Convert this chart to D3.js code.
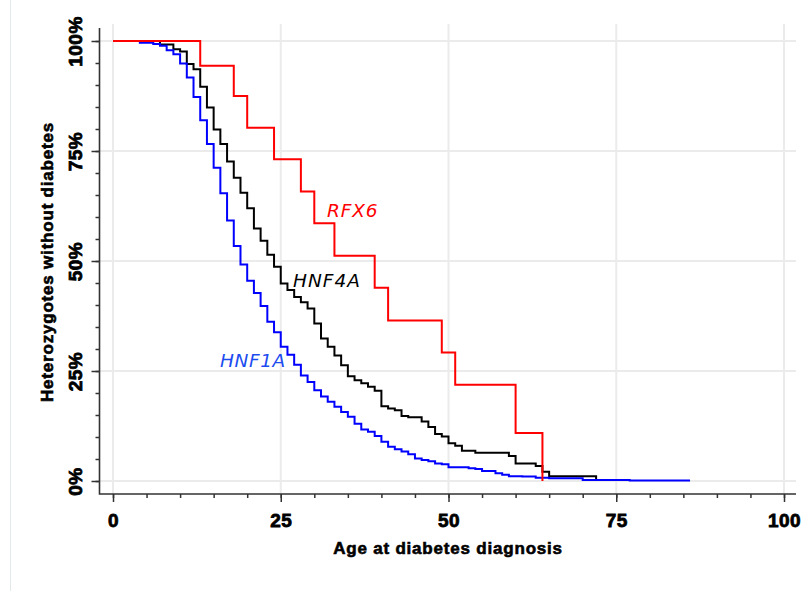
<!DOCTYPE html>
<html>
<head>
<meta charset="utf-8">
<script src="https://cdn.jsdelivr.net/npm/d3@7"></script>
<style>
  html, body { margin: 0; padding: 0; background: #fff; }
  svg { display: block; }
</style>
</head>
<body>
<svg id="chart" width="804" height="591"></svg>
<script>
// ---------------- data ----------------
const rfx6Age  = [0, 13, 18, 20, 24, 28, 30, 33, 39, 41, 49, 51, 60, 64];
const rfx6Surv = [100, 94.4, 87.5, 80.3, 73.1, 65.8, 58.6, 51.2, 43.9, 36.5, 29.2, 21.9, 10.9, 0];

const hnf4aAge  = [0, 7, 9, 10, 11, 12, 13, 14, 15, 16, 17, 18, 19, 20, 21, 22, 23, 24, 25, 26, 27, 28, 29, 30,
                   31, 32, 33, 34, 35, 36, 37, 38, 39, 40, 41, 42, 43, 44, 46, 47, 48, 49, 50, 51, 52, 54, 59, 60, 63, 64, 65, 72];
const hnf4aSurv = [100, 99.2, 98.1, 97.6, 94.8, 93.6, 89.6, 84.9, 79.9, 76.6, 72.6, 68.9, 65.5, 62.0, 57.4, 54.6, 51.4, 48.7, 44.9, 43.4, 41.8, 40.6, 39.2, 35.8,
                   32.4, 30.5, 28.5, 26.3, 23.8, 22.9, 22.2, 21.4, 20.5, 17.0, 16.5, 16.1, 14.8, 14.5, 13.5, 12.3, 10.7, 10.1, 8.6, 8.0, 6.9, 6.4, 5.7, 4.0, 3.4, 2.1, 1.1, 0];

const hnf1aAge  = [0, 4, 6, 7, 8, 9, 10, 11, 12, 13, 14, 15, 16, 17, 18, 19, 20, 21, 22, 23, 24, 25, 26, 27, 28, 29, 30,
                   31, 32, 33, 34, 35, 36, 37, 38, 39, 40, 41, 42, 43, 44, 45, 46, 47, 48, 49, 50, 53, 54, 55, 57, 58, 59, 61, 63, 65, 70, 77, 86];
const hnf1aSurv = [100, 99.6, 99.3, 98.9, 97.9, 97.0, 94.9, 91.7, 87.3, 82.0, 76.6, 71.2, 65.4, 59.2, 53.4, 49.2, 45.5, 42.7, 39.8, 36.2, 33.8, 30.5, 28.7, 26.4, 24.0, 22.5, 20.6,
                   19.2, 18.0, 16.9, 15.7, 14.6, 13.0, 11.7, 11.2, 10.2, 8.9, 7.8, 7.2, 6.7, 6.1, 5.1, 4.8, 4.5, 4.0, 3.8, 3.1, 2.9, 2.7, 2.3, 1.75, 1.4, 1.1, 1.0, 0.75, 0.6, 0.2, 0.1, 0.1];

const seriesNames  = ["HNF4A", "HNF1A", "RFX6"];
const xTickValues  = [0, 25, 50, 75, 100];
const xTickLabels  = ["0", "25", "50", "75", "100"];
const yTickValues  = [0, 25, 50, 75, 100];
const yTickLabels  = ["0%", "25%", "50%", "75%", "100%"];
const xTitle = "Age at diabetes diagnosis";
const yTitle = "Heterozygotes without diabetes";

// ---------------- layout ----------------
const svg = d3.select("#chart");
const x = d3.scaleLinear().domain([0, 100]).range([113, 784]);
const y = d3.scaleLinear().domain([0, 100]).range([481, 41]);
const axisY0 = 494, axisX0 = 99.5, plotRight = 796, plotTop = 28;

// faint figure border on the left
svg.append("line").attr("x1", 10.5).attr("x2", 10.5).attr("y1", 0).attr("y2", 591)
  .attr("stroke", "#e4eaec").attr("stroke-width", 1);

// grid
const grid = svg.append("g");
grid.selectAll("line.gx").data(xTickValues).join("line")
  .attr("x1", d => x(d)).attr("x2", d => x(d)).attr("y1", plotTop - 4).attr("y2", axisY0)
  .attr("stroke", "#ebebeb").attr("stroke-width", 2);
grid.selectAll("line.gy").data(yTickValues).join("line")
  .attr("x1", axisX0).attr("x2", plotRight).attr("y1", d => y(d)).attr("y2", d => y(d))
  .attr("stroke", "#ebebeb").attr("stroke-width", 2);

// axes
const axisColor = "#333";
const gx = svg.append("g").attr("transform", `translate(0,${axisY0})`);
gx.call(d3.axisBottom(x).tickValues(d3.range(0, 101, 5)).tickSize(4).tickFormat(""));
gx.call(g => g.select(".domain").remove());
const gxMaj = svg.append("g").attr("transform", `translate(0,${axisY0})`);
gxMaj.call(d3.axisBottom(x).tickValues(xTickValues).tickSize(8).tickPadding(12)
  .tickFormat((d, i) => xTickLabels[i]));
gxMaj.call(g => g.select(".domain").remove());

const gy = svg.append("g").attr("transform", `translate(${axisX0},0)`);
gy.call(d3.axisLeft(y).tickValues(d3.range(0, 101, 5)).tickSize(4).tickFormat(""));
gy.call(g => g.select(".domain").remove());
const gyMaj = svg.append("g").attr("transform", `translate(${axisX0},0)`);
gyMaj.call(d3.axisLeft(y).tickValues(yTickValues).tickSize(8).tickFormat((d, i) => yTickLabels[i]));
gyMaj.call(g => g.select(".domain").remove());

svg.selectAll(".tick line").attr("stroke", axisColor).attr("stroke-width", 1.5);

// axis lines (L shape)
svg.append("path")
  .attr("d", `M${axisX0},${plotTop} V${axisY0} H${plotRight}`)
  .attr("fill", "none").attr("stroke", axisColor).attr("stroke-width", 1.6);

const tickFont = "'Liberation Sans', Arial, sans-serif";
gxMaj.selectAll(".tick text")
  .attr("font-family", tickFont).attr("font-weight", "bold").attr("font-size", 19)
  .attr("fill", "#000").attr("stroke", "#000").attr("stroke-width", 0.8)
  .attr("letter-spacing", "0.5px");

gyMaj.selectAll(".tick text")
  .attr("font-family", tickFont).attr("font-weight", "bold").attr("font-size", 19)
  .attr("fill", "#000").attr("stroke", "#000").attr("stroke-width", 0.8)
  .attr("letter-spacing", "0.5px")
  .attr("text-anchor", "middle")
  .attr("x", null).attr("dy", "0.35em")
  .attr("transform", `translate(${75 - axisX0},0) rotate(-90)`);

// axis titles
svg.append("text").text(xTitle)
  .attr("x", 448).attr("y", 554).attr("text-anchor", "middle")
  .attr("font-family", tickFont).attr("font-weight", "bold").attr("font-size", 17)
  .attr("letter-spacing", "0.8px").attr("fill", "#000").attr("stroke", "#000").attr("stroke-width", 0.6);

svg.append("text").text(yTitle)
  .attr("transform", "translate(47,262) rotate(-90)").attr("dy", "0.35em")
  .attr("text-anchor", "middle")
  .attr("font-family", tickFont).attr("font-weight", "bold").attr("font-size", 17)
  .attr("letter-spacing", "0.8px").attr("fill", "#000").attr("stroke", "#000").attr("stroke-width", 0.6);

// ---------------- curves ----------------
const line = d3.line().x(d => x(d[0])).y(d => y(d[1])).curve(d3.curveStepAfter);
const curves = [
  { name: seriesNames[0], ages: hnf4aAge, surv: hnf4aSurv, color: "#000000" },
  { name: seriesNames[1], ages: hnf1aAge, surv: hnf1aSurv, color: "#0000ff" },
  { name: seriesNames[2], ages: rfx6Age,  surv: rfx6Surv,  color: "#ff0000" }
];
curves.forEach(c => {
  const pts = c.ages.map((a, i) => [a, c.surv[i]]);
  svg.append("path").datum(pts)
    .attr("d", line)
    .attr("fill", "none").attr("stroke", c.color).attr("stroke-width", 2)
    .attr("stroke-linejoin", "miter");
});

// ---------------- series labels ----------------
const labelFont = "'DejaVu Sans', Verdana, sans-serif";
const labels = [
  { text: seriesNames[2], x: 327, y: 217, color: "#ff0000", ls: "0.9px" },
  { text: seriesNames[0], x: 293, y: 287, color: "#000000", ls: "1px" },
  { text: seriesNames[1], x: 220, y: 367, color: "#1c4cf0", ls: "0.6px" }
];
labels.forEach(l => {
  svg.append("text").text(l.text)
    .attr("x", l.x).attr("y", l.y)
    .attr("font-family", labelFont).attr("font-style", "italic").attr("font-size", 18.5)
    .attr("letter-spacing", l.ls).attr("fill", l.color);
});
</script>
</body>
</html>
